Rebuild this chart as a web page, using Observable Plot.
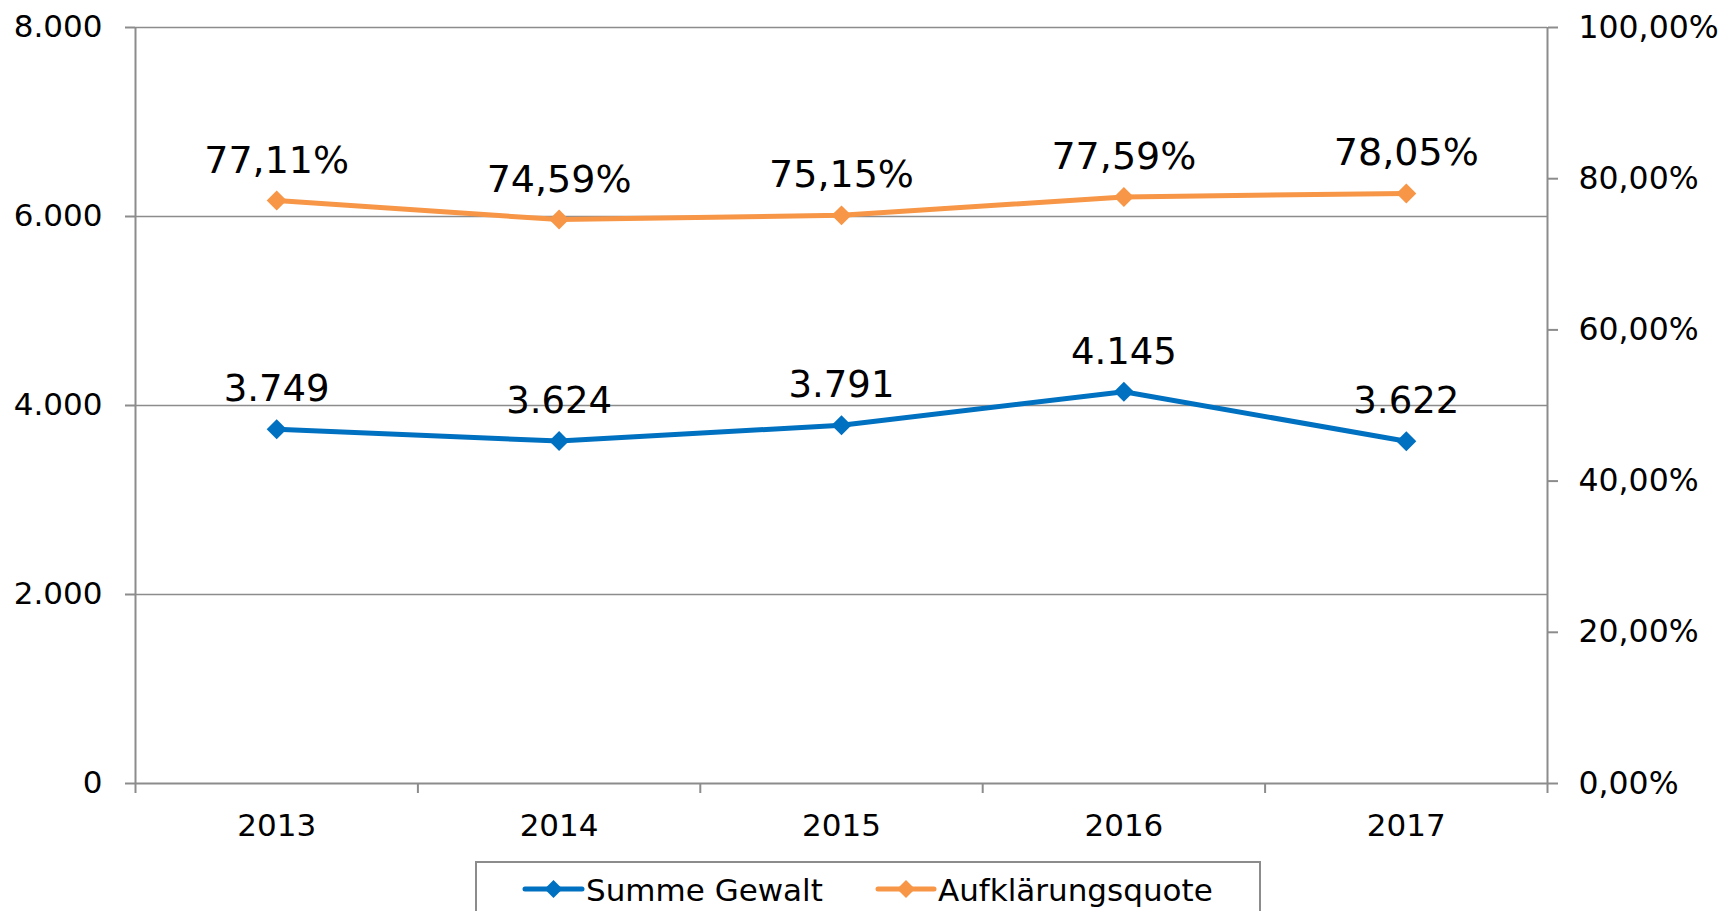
<!DOCTYPE html>
<html><head><meta charset="utf-8">
<script src="https://cdn.jsdelivr.net/npm/d3@7"></script>
<script src="https://cdn.jsdelivr.net/npm/@observablehq/plot@0.6"></script>
<style>
body{margin:0;background:#fff;font-family:"DejaVu Sans",sans-serif;}
#wrap{position:relative;width:1729px;height:911px;overflow:hidden;background:#fff;}
#legend{position:absolute;left:475px;top:861px;width:786px;height:70px;border:2px solid #8c8c8c;box-sizing:border-box;background:#fff;}
#legend svg{position:absolute;left:-2px;top:-2px;}
</style></head><body><div id="wrap"><div id="chart"></div><div id="legend"></div></div>
<script>
// ---- data ----
const years = [2013, 2014, 2015, 2016, 2017];
const summeGewalt = [3749, 3624, 3791, 4145, 3622];
const aufklaerungsquote = [77.11, 74.59, 75.15, 77.59, 78.05];
const seriesNames = ["Summe Gewalt", "Aufklärungsquote"];
const seriesColors = ["#0070C0", "#F79646"];
const leftTicks = [0, 2000, 4000, 6000, 8000];
const rightTicks = [0, 20, 40, 60, 80, 100];

// ---- helpers ----
const Y_MAX = 8000, P_MAX = 100;
const toY = p => p / P_MAX * Y_MAX;
const de = d3.formatLocale({decimal: ",", thousands: ".", grouping: [3], currency: ["", "€"]});
const fmtInt = de.format(",d");
const fmtPct = v => de.format(".2f")(v) + "%";

const gewalt = years.map((year, i) => ({year, value: summeGewalt[i]}));
const quote = years.map((year, i) => ({year, value: aufklaerungsquote[i]}));
const bounds = years.map(y => y - 0.5).concat([years[years.length - 1] + 0.5]);
const GRID = "#8c8c8c";

const plot = Plot.plot({
  width: 1729, height: 858,
  marginTop: 27, marginBottom: 75, marginLeft: 135, marginRight: 182,
  style: {fontFamily: "DejaVu Sans", fontSize: "31px", color: "black", background: "white"},
  x: {type: "linear", domain: [bounds[0], bounds[bounds.length - 1]]},
  y: {domain: [0, Y_MAX]},
  marks: [
    Plot.ruleY(leftTicks.slice(1), {stroke: GRID, strokeWidth: 1.6}),
    Plot.ruleY([0], {stroke: GRID, strokeWidth: 2}),
    Plot.ruleX([bounds[0], bounds[bounds.length - 1]], {stroke: GRID, strokeWidth: 2}),
    Plot.axisY({ticks: leftTicks, anchor: "left", tickSize: 10, tickPadding: 23, tickFormat: fmtInt,
      stroke: GRID, strokeWidth: 2, fill: "black", fontSize: 31, label: null}),
    Plot.axisY({ticks: rightTicks.map(toY), anchor: "right", tickSize: 10, tickPadding: 21,
      tickFormat: v => fmtPct(v / Y_MAX * P_MAX),
      stroke: GRID, strokeWidth: 2, fill: "black", fontSize: 31.5, label: null}),
    Plot.axisX({ticks: bounds, tickSize: 10, tickFormat: () => "", stroke: GRID, strokeWidth: 2, label: null}),
    Plot.axisX({ticks: years, tickSize: 0, tickPadding: 30, tickFormat: d => String(d), fill: "black", fontSize: 31, label: null}),
    Plot.line(gewalt, {x: "year", y: "value", stroke: seriesColors[0], strokeWidth: 5}),
    Plot.dot(gewalt, {x: "year", y: "value", symbol: "diamond2", r: 9, fill: seriesColors[0], stroke: "none"}),
    Plot.line(quote, {x: "year", y: d => toY(d.value), stroke: seriesColors[1], strokeWidth: 5}),
    Plot.dot(quote, {x: "year", y: d => toY(d.value), symbol: "diamond2", r: 9, fill: seriesColors[1], stroke: "none"}),
    Plot.text(gewalt, {x: "year", y: "value", text: d => fmtInt(d.value), lineAnchor: "bottom", dy: -28, fontSize: 37, fill: "black"}),
    Plot.text(quote, {x: "year", y: d => toY(d.value), text: d => fmtPct(d.value), lineAnchor: "bottom", dy: -28, fontSize: 38, fill: "black"})
  ]
});
document.getElementById("chart").appendChild(plot);

// ---- legend ----
const legendItems = [
  {name: seriesNames[0], color: seriesColors[0], x0: 50, x1: 107, tx: 111},
  {name: seriesNames[1], color: seriesColors[1], x0: 403, x1: 459, tx: 463}
];
const ns = "http://www.w3.org/2000/svg";
const lsvg = document.createElementNS(ns, "svg");
lsvg.setAttribute("width", 790); lsvg.setAttribute("height", 70);
legendItems.forEach(it => {
  const ln = document.createElementNS(ns, "line");
  ln.setAttribute("x1", it.x0); ln.setAttribute("x2", it.x1);
  ln.setAttribute("y1", 28); ln.setAttribute("y2", 28);
  ln.setAttribute("stroke", it.color); ln.setAttribute("stroke-width", 5); ln.setAttribute("stroke-linecap", "round");
  lsvg.appendChild(ln);
  const cx = (it.x0 + it.x1) / 2, r = 9;
  const dm = document.createElementNS(ns, "path");
  dm.setAttribute("d", `M${cx},${28 - r}L${cx + r},28L${cx},${28 + r}L${cx - r},28Z`);
  dm.setAttribute("fill", it.color);
  lsvg.appendChild(dm);
  const tx = document.createElementNS(ns, "text");
  tx.setAttribute("x", it.tx); tx.setAttribute("y", 40);
  tx.setAttribute("font-family", "DejaVu Sans"); tx.setAttribute("font-size", 31);
  tx.setAttribute("fill", "black");
  tx.textContent = it.name;
  lsvg.appendChild(tx);
});
document.getElementById("legend").appendChild(lsvg);
</script></body></html>
